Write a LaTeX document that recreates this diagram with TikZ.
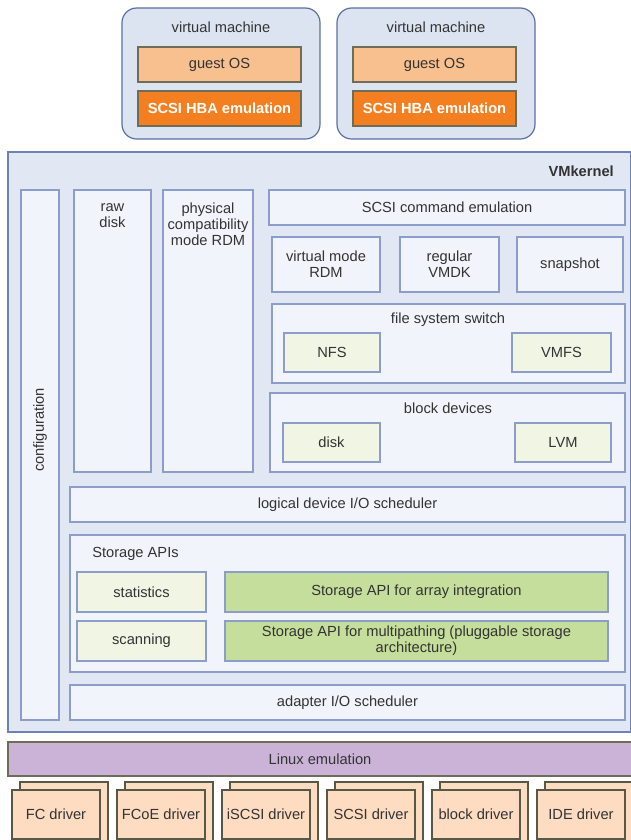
\documentclass[tikz,border=0pt]{standalone}
\usepackage{fontspec}
\setmainfont{Liberation Sans}
\usetikzlibrary{positioning}
\definecolor{txtgray}{HTML}{333333}
\definecolor{vmfill}{HTML}{DCE4F2}
\definecolor{vmline}{HTML}{5B6FA0}
\definecolor{kfill}{HTML}{E2E8F3}
\definecolor{kline}{HTML}{6E82B5}
\definecolor{infill}{HTML}{F1F4FA}
\definecolor{inline}{HTML}{8D9DCB}
\definecolor{guestfill}{HTML}{F8BF8F}
\definecolor{hbafill}{HTML}{F47F20}
\definecolor{olive}{HTML}{6E6E58}
\definecolor{fsfill}{HTML}{F0F5E4}
\definecolor{apifill}{HTML}{C5DE9B}
\definecolor{linfill}{HTML}{CBB3D8}
\definecolor{drvfill}{HTML}{FDDCC2}
\tikzset{txt/.style={font=\fontsize{11}{12}\selectfont,text=txtgray,align=center,inner sep=0pt},
 span/.style n args={4}{minimum width={((#3)-(#1))*0.75pt},minimum height={((#4)-(#2))*0.75pt},at={({((#1)+(#3))/2},{((#2)+(#4))/2})}},
 vmbox/.style={draw=vmline,fill=vmfill,line width=.9pt,rounded corners=11pt,inner sep=0pt},
 kbox/.style={draw=kline,fill=kfill,line width=.9pt,inner sep=0pt},
 inbox/.style={txt,draw=inline,fill=infill,line width=.8pt},
 guestbox/.style={txt,draw=olive,fill=guestfill,line width=.8pt},
 hbabox/.style={txt,draw=olive,fill=hbafill,line width=.8pt,text=white,font=\fontsize{11}{12}\selectfont\bfseries},
 fsbox/.style={txt,draw=inline,fill=fsfill,line width=.8pt},
 apibox/.style={txt,draw=inline,fill=apifill,line width=.8pt},
 linbox/.style={txt,draw=olive,fill=linfill,line width=.8pt},
 drvbox/.style={txt,draw=olive!80!black,fill=drvfill,line width=.8pt}}
\begin{document}
\begin{tikzpicture}[x=0.75pt,y=-0.75pt]
\path[use as bounding box,clip] (0,0) rectangle (631,840);
% virtual machines
\foreach \dx/\n in {0/A,215/B}{
  \node[vmbox,span={122+\dx}{8}{320+\dx}{139}] (vm\n) {};
  \node[txt] (vmlbl\n) at (221+\dx,27) {virtual machine};
  \node[guestbox,span={138+\dx}{47}{301+\dx}{82}] (guest\n) {guest OS};
  \node[hbabox,span={138+\dx}{91}{301+\dx}{126}] (hba\n) {SCSI HBA emulation};
}
% VMkernel
\node[kbox,span={8}{152}{631}{732}] (vmk) {};
\node[txt,font=\fontsize{11}{12}\selectfont\bfseries,anchor=east] (vmklbl) at (614,171) {VMkernel};
\node[inbox,span={21}{190}{59}{720}] (config) {};
\node[txt,rotate=90] (configlbl) at (40,430) {configuration};
\node[inbox,span={74}{190}{151}{472}] (raw) {};
\node[txt,anchor=north] (rawlbl) at (112.5,203) {raw\\disk};
\node[inbox,span={163}{190}{253}{472}] (phys) {};
\node[txt,anchor=north] (physlbl) at (208,203) {physical\\compatibility\\mode RDM};
\node[inbox,span={269}{190}{625}{225}] (cmdemu) {SCSI command emulation};
\node[inbox,span={272}{237}{380}{292}] (vrdm) {virtual mode\\RDM};
\node[inbox,span={400}{237}{499}{292}] (vmdk) {regular\\VMDK};
\node[inbox,span={517}{237}{623}{292}] (snap) {snapshot};
% file system switch
\node[inbox,span={272}{304}{625}{383}] (fss) {};
\node[txt] (fsslbl) at (448,320) {file system switch};
\node[fsbox,span={284}{333}{380}{372}] (nfs) {NFS};
\node[fsbox,span={512}{333}{611}{372}] (vmfs) {VMFS};
% block devices
\node[inbox,span={270}{393}{625}{472}] (blk) {};
\node[txt] (blklbl) at (448,408) {block devices};
\node[fsbox,span={283}{423}{380}{462}] (disk) {disk};
\node[fsbox,span={515}{423}{611}{462}] (lvm) {LVM};
% schedulers and storage APIs
\node[inbox,span={70}{487}{625}{522}] (ldsched) {logical device I/O scheduler};
\node[inbox,span={70}{535}{625}{672}] (sapi) {};
\node[txt,anchor=west] (sapilbl) at (92,554) {Storage APIs};
\node[fsbox,span={77}{572}{206}{612}] (stats) {statistics};
\node[fsbox,span={77}{621}{206}{661}] (scan) {scanning};
\node[apibox,span={225}{572}{608}{612}] (vaai) {Storage API for array integration};
\node[apibox,span={225}{621}{608}{661}] (psa) {Storage API for multipathing (pluggable storage\\architecture)};
\node[inbox,span={70}{685}{625}{720}] (adsched) {adapter I/O scheduler};
% linux emulation and drivers
\node[linbox,span={8}{742}{632}{776}] (linux) {Linux emulation};
\foreach \i/\drv in {0/FC driver,1/FCoE driver,2/iSCSI driver,3/SCSI driver,4/block driver,5/IDE driver}{
  \pgfmathsetmacro{\xa}{12+105*\i}
  \node[drvbox,span={\xa+8}{782}{\xa+96}{842}] (drvback\i) {};
  \node[drvbox,span={\xa}{790}{\xa+88}{839}] (drv\i) {\drv};
}
\end{tikzpicture}
\end{document}
